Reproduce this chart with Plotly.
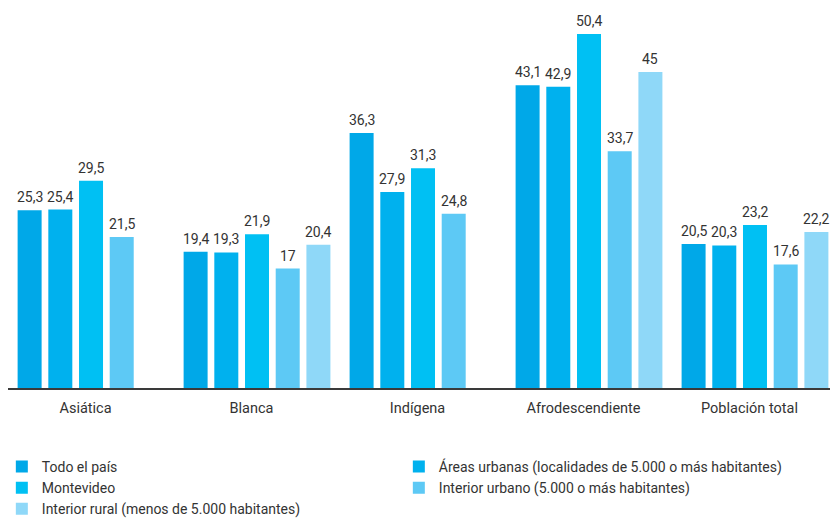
import plotly.graph_objects as go

categories = ["Asiática", "Blanca", "Indígena", "Afrodescendiente", "Población total"]
series_names = [
    "Todo el país",
    "Áreas urbanas (localidades de 5.000 o más habitantes)",
    "Montevideo",
    "Interior urbano (5.000 o más habitantes)",
    "Interior rural (menos de 5.000 habitantes)",
]
todo_el_pais = [25.3, 19.4, 36.3, 43.1, 20.5]
areas_urbanas = [25.4, 19.3, 27.9, 42.9, 20.3]
montevideo = [29.5, 21.9, 31.3, 50.4, 23.2]
interior_urbano = [21.5, 17.0, 24.8, 33.7, 17.6]
interior_rural = [None, 20.4, None, 45.0, 22.2]
series_values = [todo_el_pais, areas_urbanas, montevideo, interior_urbano, interior_rural]
colors = ["#00A8E8", "#00B1EE", "#00C0F3", "#5DC9F5", "#8FD8F8"]

FONT = "Roboto, 'Liberation Sans Narrow', sans-serif"
PX_PER_UNIT = 166.0
bar_w = 24 / PX_PER_UNIT
pitch = 30.7 / PX_PER_UNIT
shift = 5.5 / PX_PER_UNIT


def fmt(v):
    if float(v).is_integer():
        return str(int(v))
    return f"{v:.1f}".replace(".", ",")


fig = go.Figure()
xs = list(range(len(categories)))
for i, (name, vals, col) in enumerate(zip(series_names, series_values, colors)):
    off = -2.5 * pitch + i * pitch + (pitch - bar_w) / 2 + shift
    fig.add_trace(go.Bar(
        x=xs, y=vals, name=name,
        width=bar_w, offset=off,
        marker=dict(color=col, line=dict(width=0)),
        hoverinfo="skip",
    ))
    for k, v in enumerate(vals):
        if v is None:
            continue
        fig.add_annotation(
            x=k + off + bar_w / 2, y=v, xref="x", yref="y",
            text=fmt(v), showarrow=False, yanchor="bottom", yshift=3,
            font=dict(family=FONT, size=14, color="#333333"),
        )

fig.update_layout(
    width=830, height=519,
    margin=dict(l=8, r=0, t=0, b=131, autoexpand=False),
    barmode="overlay",
    paper_bgcolor="white", plot_bgcolor="white",
    font=dict(family=FONT, size=14, color="#333333"),
    showlegend=True,
    legend=dict(
        orientation="h", x=-0.0075, xanchor="left", y=-0.162, yanchor="top",
        yref="paper",
        entrywidth=352, entrywidthmode="pixels",
        traceorder="normal",
        font=dict(family=FONT, size=14, color="#333333"),
        itemwidth=30, tracegroupgap=0,
    ),
    xaxis=dict(
        range=[-0.467, 4.485], tickvals=xs, ticktext=categories,
        showgrid=False, zeroline=False, showline=True, linecolor="#3a3a3a", linewidth=1.5,
        ticks="outside", ticklen=6, tickcolor="rgba(0,0,0,0)",
        tickfont=dict(family=FONT, size=14.5, color="#333333"),
    ),
    yaxis=dict(range=[0, 55.24], visible=False, showgrid=False, zeroline=False),
)

fig.write_html("out.html")
